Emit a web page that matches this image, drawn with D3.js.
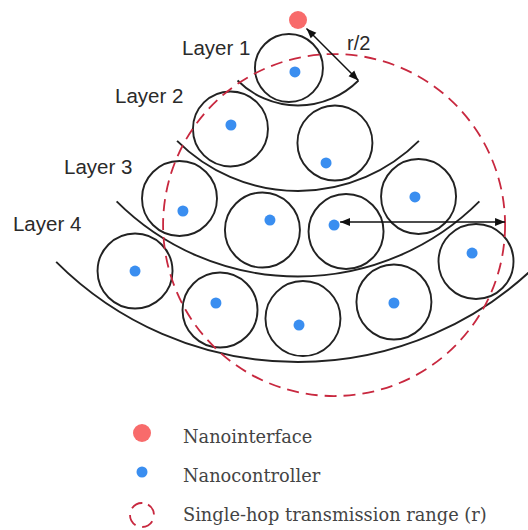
<!DOCTYPE html>
<html>
<head>
<meta charset="utf-8">
<script src="https://cdn.jsdelivr.net/npm/d3@7"></script>
<style>
  body { margin: 0; background: #fff; }
  svg { display: block; }
</style>
</head>
<body>
<div id="chart"></div>
<script>
// diagram coordinates are in units of r (single-hop range), origin = nanointerface
const layerNames = ["Layer 1", "Layer 2", "Layer 3", "Layer 4"];
const layerRadius = [0.5, 1, 1.5, 2];           // arcs at r/2, r, 3r/2, 2r
const layerLabelX = [-0.678, -1.070, -1.368, -1.667];
const layerLabelY = [0.205, 0.485, 0.901, 1.234];

// nanonode cells: layer index, cell centre, nanocontroller position
const cellLayer = [0, 1, 1, 2, 2, 2, 2, 3, 3, 3, 3, 3];
const cellX = [-0.053, -0.395, 0.216, -0.693, -0.208, 0.281, 0.705, -0.953, -0.456, 0.029, 0.561, 1.041];
const cellY = [0.281, 0.637, 0.719, 1.044, 1.228, 1.237, 1.032, 1.468, 1.696, 1.746, 1.649, 1.412];
const ctrlX = [-0.018, -0.392, 0.164, -0.673, -0.164, 0.211, 0.684, -0.953, -0.480, 0.006, 0.561, 1.018];
const ctrlY = [0.304, 0.614, 0.836, 1.117, 1.170, 1.199, 1.035, 1.468, 1.655, 1.784, 1.655, 1.363];

const rangeNode = 5;       // nanocontroller whose range circle is shown
const legendItems = ["Nanointerface", "Nanocontroller", "Single-hop transmission range (r)"];

const width = 528, height = 530;
const svg = d3.select("#chart").append("svg")
  .attr("width", width)
  .attr("height", height);

const defs = svg.append("defs");
defs.append("marker")
  .attr("id", "head")
  .attr("viewBox", "0 0 10 10")
  .attr("refX", 10).attr("refY", 5)
  .attr("markerWidth", 10).attr("markerHeight", 10)
  .attr("markerUnits", "userSpaceOnUse")
  .attr("orient", "auto-start-reverse")
  .append("path")
  .attr("d", "M0,1 L10,5 L0,9 Z")
  .attr("fill", "#111");

const x = d3.scaleLinear().domain([0, 1]).range([298, 469]);
const y = d3.scaleLinear().domain([0, 1]).range([20, 191]);
const unit = x(1) - x(0);

// layer arcs (quarter circle around the nanointerface)
svg.selectAll("path.layer")
  .data(layerRadius)
  .enter()
  .append("path")
  .attr("class", "layer")
  .attr("d", d => {
    const p = d3.path();
    p.arc(x(0), y(0), d * unit, Math.PI / 4, 3 * Math.PI / 4);
    return p.toString();
  })
  .attr("fill", "none")
  .attr("stroke", "#222")
  .attr("stroke-width", 1.9);

// cells
svg.selectAll("circle.cell")
  .data(cellX)
  .enter()
  .append("circle")
  .attr("class", "cell")
  .attr("cx", d => x(d))
  .attr("cy", (d, i) => y(cellY[i]))
  .attr("r", (d, i) => cellLayer[i] === 0 ? 34 : 37.5)
  .attr("fill", "none")
  .attr("stroke", "#222")
  .attr("stroke-width", 1.9);

// range circle
svg.append("circle")
  .attr("cx", x(ctrlX[rangeNode]))
  .attr("cy", y(ctrlY[rangeNode]))
  .attr("r", unit)
  .attr("fill", "none")
  .attr("stroke", "#c8283f")
  .attr("stroke-width", 1.8)
  .attr("stroke-dasharray", "12 7");

// nanocontrollers
svg.selectAll("circle.ctrl")
  .data(ctrlX)
  .enter()
  .append("circle")
  .attr("class", "ctrl")
  .attr("cx", d => x(d))
  .attr("cy", (d, i) => y(ctrlY[i]))
  .attr("r", 5.5)
  .attr("fill", "#3a8ef0");

// nanointerface
svg.append("circle")
  .attr("cx", x(0))
  .attr("cy", y(0))
  .attr("r", 9)
  .attr("fill", "#f86b6b");

// r/2 arrow along the 45 degree ray
const c45 = Math.SQRT1_2;
svg.append("line")
  .attr("x1", x(0.07 * c45)).attr("y1", y(0.07 * c45))
  .attr("x2", x(0.5 * c45)).attr("y2", y(0.5 * c45))
  .attr("stroke", "#111").attr("stroke-width", 1.5)
  .attr("marker-start", "url(#head)")
  .attr("marker-end", "url(#head)");

svg.append("text")
  .attr("x", x(0.287)).attr("y", y(0.175))
  .attr("font-family", "Liberation Sans, Arial, sans-serif")
  .attr("font-size", 20)
  .attr("fill", "#2a2a2a")
  .text("r/2");

// r arrow
svg.append("line")
  .attr("x1", x(ctrlX[rangeNode]) + 6).attr("y1", y(ctrlY[rangeNode]) - 3)
  .attr("x2", x(ctrlX[rangeNode] + 1)).attr("y2", y(ctrlY[rangeNode]) - 3)
  .attr("stroke", "#111").attr("stroke-width", 1.5)
  .attr("marker-start", "url(#head)")
  .attr("marker-end", "url(#head)");

// layer labels
svg.selectAll("text.lab")
  .data(layerNames)
  .enter()
  .append("text")
  .attr("class", "lab")
  .attr("x", (d, i) => x(layerLabelX[i]))
  .attr("y", (d, i) => y(layerLabelY[i]))
  .attr("font-family", "Liberation Sans, Arial, sans-serif")
  .attr("font-size", 20.5)
  .attr("fill", "#2a2a2a")
  .text(d => d);

// legend
const legend = svg.append("g").attr("transform", "translate(142,0)");
const rowY = d3.scaleLinear().domain([0, 2]).range([443, 521]);

legend.append("circle")
  .attr("cx", 0).attr("cy", rowY(0) - 10)
  .attr("r", 9).attr("fill", "#f86b6b");
legend.append("circle")
  .attr("cx", 0).attr("cy", rowY(1) - 10)
  .attr("r", 5.5).attr("fill", "#3a8ef0");
legend.append("circle")
  .attr("cx", 0).attr("cy", rowY(2) - 6)
  .attr("r", 12)
  .attr("fill", "none")
  .attr("stroke", "#c8283f")
  .attr("stroke-width", 1.8)
  .attr("stroke-dasharray", "12 7")
  .attr("transform", `rotate(-60 0 ${rowY(2) - 6})`);

legend.selectAll("text")
  .data(legendItems)
  .enter()
  .append("text")
  .attr("x", 41)
  .attr("y", (d, i) => rowY(i))
  .attr("font-family", "DejaVu Serif, Georgia, serif")
  .attr("font-size", 17.8)
  .attr("fill", "#444")
  .text(d => d);
</script>
</body>
</html>
